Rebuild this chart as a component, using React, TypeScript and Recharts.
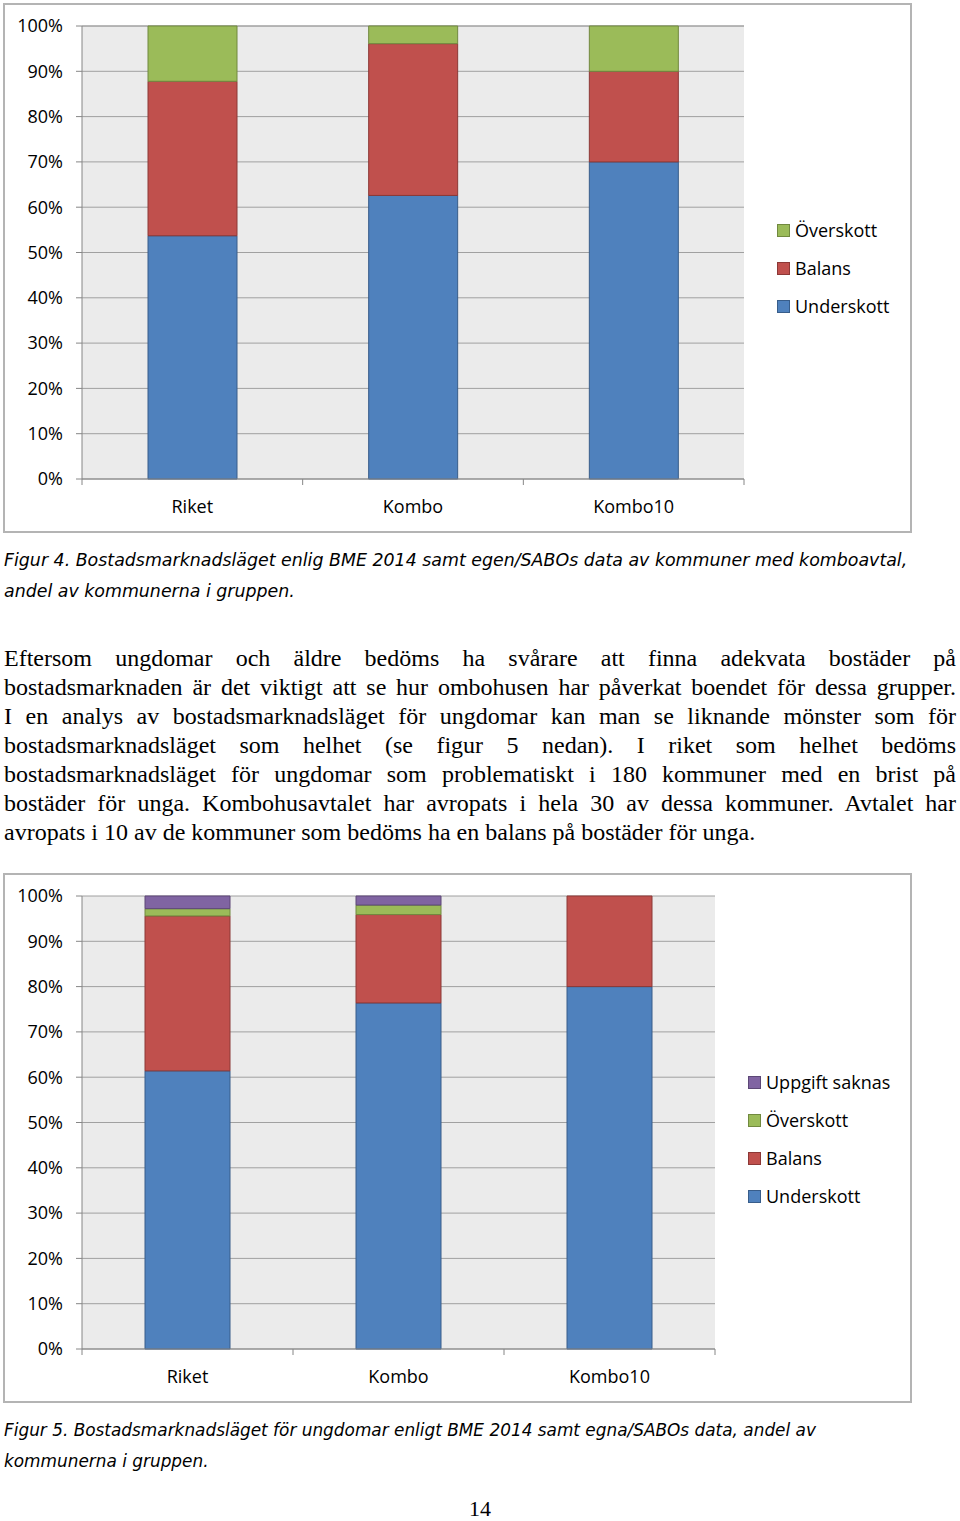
import React from "react";
import {
  Bar,
  BarChart,
  CartesianGrid,
  Legend,
  XAxis,
  YAxis,
} from "recharts";

const categories = ["Riket", "Kombo", "Kombo10"];

// Figur 4
const underskott4 = [53.7, 62.6, 70];
const balans4 = [34.1, 33.5, 20];
const overskott4 = [12.2, 3.9, 10];

// Figur 5
const underskott5 = [61.4, 76.4, 80];
const balans5 = [34.2, 19.5, 20];
const overskott5 = [1.6, 2.1, 0];
const saknas5 = [2.8, 2.0, 0];

const yTicks = [0, 10, 20, 30, 40, 50, 60, 70, 80, 90, 100];

const caption4 = [
  "Figur 4. Bostadsmarknadsläget enlig BME 2014 samt egen/SABOs data av kommuner med komboavtal,",
  "andel av kommunerna i gruppen.",
];
const caption5 = [
  "Figur 5. Bostadsmarknadsläget för ungdomar enligt BME 2014 samt egna/SABOs data, andel av",
  "kommunerna i gruppen.",
];
const bodyLines = [
  "Eftersom ungdomar och äldre bedöms ha svårare att finna adekvata bostäder på",
  "bostadsmarknaden är det viktigt att se hur ombohusen har påverkat boendet för dessa grupper.",
  "I en analys av bostadsmarknadsläget för ungdomar kan man se liknande mönster som för",
  "bostadsmarknadsläget som helhet (se figur 5 nedan). I riket som helhet bedöms",
  "bostadsmarknadsläget för ungdomar som problematiskt i 180 kommuner med en brist på",
  "bostäder för unga. Kombohusavtalet har avropats i hela 30 av dessa kommuner. Avtalet har",
  "avropats i 10 av de kommuner som bedöms ha en balans på bostäder för unga.",
];

const data4 = categories.map((name, i) => ({
  name,
  Underskott: underskott4[i],
  Balans: balans4[i],
  "Överskott": overskott4[i],
}));

const data5 = categories.map((name, i) => ({
  name,
  Underskott: underskott5[i],
  Balans: balans5[i],
  "Överskott": overskott5[i],
  "Uppgift saknas": saknas5[i],
}));

const COLORS = {
  Underskott: { fill: "#4f81bd", stroke: "#385d8a" },
  Balans: { fill: "#c0504d", stroke: "#8c3836" },
  "Överskott": { fill: "#9bbb59", stroke: "#71893f" },
  "Uppgift saknas": { fill: "#8064a2", stroke: "#5c4776" },
};

type SeriesKey = keyof typeof COLORS;

const FONT = "'Open Sans', 'DejaVu Sans', sans-serif";
const AXIS = "#868686";

function CategoryTick(props: any) {
  const { x, y, payload, index, visibleTicksCount, width } = props;
  const half = payload?.offset ?? width / visibleTicksCount / 2;
  const last = index === visibleTicksCount - 1;
  return (
    <g>
      <line x1={x - half} x2={x - half} y1={y} y2={y + 6} stroke={AXIS} />
      {last && <line x1={x + half} x2={x + half} y1={y} y2={y + 6} stroke={AXIS} />}
      <text
        x={x}
        y={y + 27}
        textAnchor="middle"
        dominantBaseline="central"
        fontFamily={FONT}
        fontSize={18}
        fill="#000"
      >
        {payload.value}
      </text>
    </g>
  );
}

// legend lists the stack top-down, like the stacked bars
function LegendList({ series }: { series: SeriesKey[] }) {
  const items = [...series].reverse();
  return (
    <div style={{ fontFamily: FONT, fontSize: 18 }}>
      {items.map((key) => (
        <div key={key} style={{ height: 38, display: "flex", alignItems: "center" }}>
          <span
            style={{
              display: "inline-block",
              width: 11,
              height: 11,
              background: COLORS[key].fill,
              border: `1px solid ${COLORS[key].stroke}`,
              marginRight: 5,
            }}
          />
          <span style={{ color: "#000", whiteSpace: "nowrap" }}>{key}</span>
        </div>
      ))}
    </div>
  );
}

type StackChartProps = {
  data: Record<string, string | number>[];
  series: SeriesKey[];
  right: number;
  barSize: number;
  legendLeft: number;
  legendTop: number;
};

function StackChart({ data, series, right, barSize, legendLeft, legendTop }: StackChartProps) {
  return (
    <BarChart
      width={905}
      height={526}
      data={data}
      margin={{ top: 21, right, bottom: 0, left: 0 }}
      barSize={barSize}
    >
      <CartesianGrid vertical={false} stroke="#a0a0a0" fill="#ebebeb" />
      <XAxis
        dataKey="name"
        height={52}
        stroke={AXIS}
        tickLine={false}
        tickSize={0}
        tickMargin={0}
        tick={<CategoryTick />}
      />
      <YAxis
        type="number"
        domain={[0, 100]}
        ticks={yTicks}
        interval={0}
        width={77}
        stroke={AXIS}
        tickSize={6}
        tickMargin={13}
        tickFormatter={(v) => `${v}%`}
        tick={{ fill: "#000", fontFamily: FONT, fontSize: 18 }}
      />
      <Legend
        layout="vertical"
        align="center"
        verticalAlign="middle"
        content={<LegendList series={series} />}
        wrapperStyle={{ left: legendLeft, top: legendTop, width: 170 }}
      />
      {series.map((key) => (
        <Bar
          key={key}
          dataKey={key}
          stackId="a"
          fill={COLORS[key].fill}
          stroke={COLORS[key].stroke}
          strokeWidth={1}
          isAnimationActive={false}
        />
      ))}
    </BarChart>
  );
}

const boxStyle: React.CSSProperties = {
  position: "absolute",
  left: 3,
  width: 905,
  height: 526,
  border: "2px solid #b4b4b4",
  background: "#fff",
};

const captionStyle: React.CSSProperties = {
  position: "absolute",
  left: 4,
  fontFamily: "'DejaVu Sans', sans-serif",
  fontStyle: "italic",
  fontSize: 17.4,
  lineHeight: "31px",
  whiteSpace: "nowrap",
  color: "#000",
};

export default function App() {
  return (
    <div
      style={{
        position: "absolute",
        left: 0,
        top: 0,
        width: 960,
        height: 1521,
        background: "#fff",
        overflow: "hidden",
      }}
    >
      <div style={{ ...boxStyle, top: 3 }}>
        <StackChart
          data={data4}
          series={["Underskott", "Balans", "Överskott"]}
          right={166}
          barSize={89}
          legendLeft={772}
          legendTop={206}
        />
      </div>

      <div style={{ ...captionStyle, top: 545 }}>
        {caption4.map((l) => (
          <div key={l}>{l}</div>
        ))}
      </div>

      <div
        style={{
          position: "absolute",
          left: 4,
          top: 644,
          width: 952,
          fontFamily: "'Liberation Serif', 'Times New Roman', serif",
          fontSize: 24,
          lineHeight: "29px",
          color: "#000",
        }}
      >
        {bodyLines.map((l, i) => (
          <div
            key={i}
            style={{
              whiteSpace: "nowrap",
              textAlign: "justify",
              textAlignLast: i === bodyLines.length - 1 ? "left" : "justify",
            }}
          >
            {l}
          </div>
        ))}
      </div>

      <div style={{ ...boxStyle, top: 873 }}>
        <StackChart
          data={data5}
          series={["Underskott", "Balans", "Överskott", "Uppgift saknas"]}
          right={195}
          barSize={85}
          legendLeft={743}
          legendTop={188}
        />
      </div>

      <div style={{ ...captionStyle, top: 1415, fontSize: 16.9 }}>
        {caption5.map((l) => (
          <div key={l}>{l}</div>
        ))}
      </div>

      <div
        style={{
          position: "absolute",
          left: 0,
          width: 960,
          top: 1497,
          textAlign: "center",
          fontFamily: "'Liberation Serif', serif",
          fontSize: 22,
          lineHeight: "24px",
        }}
      >
        14
      </div>
    </div>
  );
}
